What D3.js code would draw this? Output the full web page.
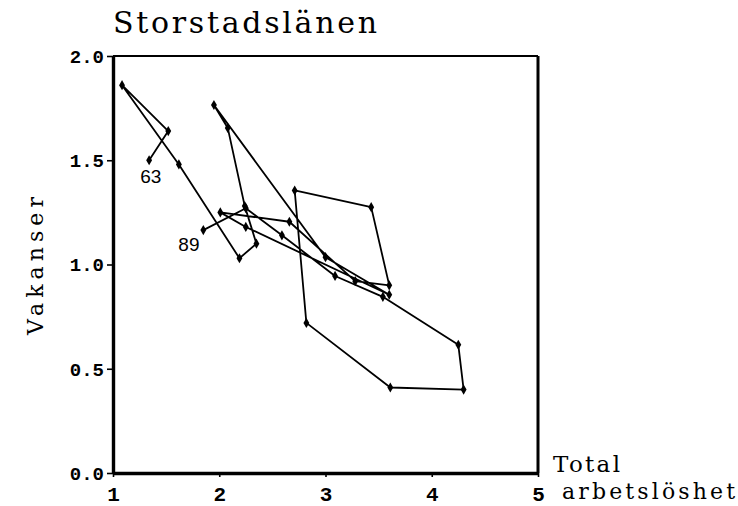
<!DOCTYPE html>
<html><head><meta charset="utf-8">
<script src="https://cdn.jsdelivr.net/npm/d3@7"></script>
<style>body{margin:0;background:#fff}</style>
</head><body>
<svg id="c" width="738" height="506"></svg>
<script>
const years = [63,64,65,66,67,68,69,70,71,72,73,74,75,76,77,78,79,80,81,82,83,84,85,86,87,88,89];
const unemployment = [1.34,1.52,1.085,1.62,2.19,2.35,2.24,2.08,1.95,3.00,3.60,2.25,2.01,2.66,3.28,3.60,3.43,2.71,2.82,3.61,4.30,4.25,3.54,3.09,2.59,2.25,1.85];
const vacancies    = [1.50,1.64,1.86,1.48,1.03,1.10,1.28,1.655,1.765,1.035,0.855,1.18,1.25,1.205,0.92,0.90,1.275,1.355,0.72,0.41,0.40,0.615,0.845,0.945,1.14,1.27,1.165];
const xTicks = [1,2,3,4,5];
const yTicks = [0,0.5,1.0,1.5,2.0];
const labelYears = [63,89];

const svg = d3.select("#c");
const x = d3.scaleLinear().domain([1,5]).range([113,538]);
const y = d3.scaleLinear().domain([0,2]).range([473,56]);
const serif = "'DejaVu Serif', serif";
const mono = "'Liberation Mono', monospace";

// frame
svg.append("line").attr("x1",x(1)).attr("x2",x(5)).attr("y1",y(2)).attr("y2",y(2)).attr("stroke","#000").attr("stroke-width",2.2);
svg.append("line").attr("x1",x(5)).attr("x2",x(5)).attr("y1",y(2)).attr("y2",y(0)).attr("stroke","#000").attr("stroke-width",3);

// axes
const gx = svg.append("g").attr("transform",`translate(0,${y(0)})`)
  .call(d3.axisBottom(x).tickValues(xTicks).tickFormat(d3.format("d")).tickSize(4).tickSizeOuter(0).tickPadding(9));
const gy = svg.append("g").attr("transform",`translate(${x(1)},0)`)
  .call(d3.axisLeft(y).tickValues(yTicks).tickFormat(d3.format(".1f")).tickSize(6).tickSizeOuter(0).tickPadding(3));
[gx,gy].forEach(g=>{
  g.select(".domain").attr("stroke","#000").attr("stroke-width",3.4);
  g.selectAll(".tick line").attr("stroke","#000").attr("stroke-width",1.6);
  g.selectAll(".tick text").attr("fill","#000").attr("font-family",mono).attr("font-weight","bold");
});
gx.selectAll(".tick text").attr("font-size",21);
gy.selectAll(".tick text").attr("font-size",19).attr("dy","0.34em");

// path
const pts = years.map((yr,i)=>({yr, u:unemployment[i], v:vacancies[i]}));
svg.append("path").datum(pts)
  .attr("d", d3.line().x(d=>x(d.u)).y(d=>y(d.v)))
  .attr("fill","none").attr("stroke","#000").attr("stroke-width",1.8).attr("stroke-linejoin","round");
svg.selectAll(".pt").data(pts).join("path").attr("class","pt")
  .attr("transform",d=>`translate(${x(d.u)},${y(d.v)})`)
  .attr("d", d3.symbol(d3.symbolDiamond, 30))
  .attr("fill","#000");

// year labels
const lab = pts.filter(d=>labelYears.includes(d.yr));
svg.selectAll(".yl").data(lab).join("text").attr("class","yl")
  .attr("x",d=> d.yr===63 ? x(d.u)-9 : x(d.u)-25)
  .attr("y",d=> d.yr===63 ? y(d.v)+23 : y(d.v)+21)
  .attr("font-family","'Liberation Sans', Arial, sans-serif").attr("font-size",19)
  .text(d=>d.yr);

// titles
svg.append("text").attr("x",113).attr("y",33).attr("font-family",serif).attr("font-size",30)
  .attr("textLength",264).attr("lengthAdjust","spacing").text("Storstadslänen");
svg.append("text").attr("transform","translate(43,266) rotate(-90)").attr("text-anchor","middle")
  .attr("font-family",serif).attr("font-size",22).attr("textLength",138).attr("lengthAdjust","spacing").text("Vakanser");
svg.append("text").attr("x",553).attr("y",472).attr("font-family",serif).attr("font-size",23)
  .attr("textLength",67).attr("lengthAdjust","spacing").text("Total");
svg.append("text").attr("x",562).attr("y",499).attr("font-family",serif).attr("font-size",22)
  .attr("textLength",173).attr("lengthAdjust","spacing").text("arbetslöshet");
</script>
</body></html>
